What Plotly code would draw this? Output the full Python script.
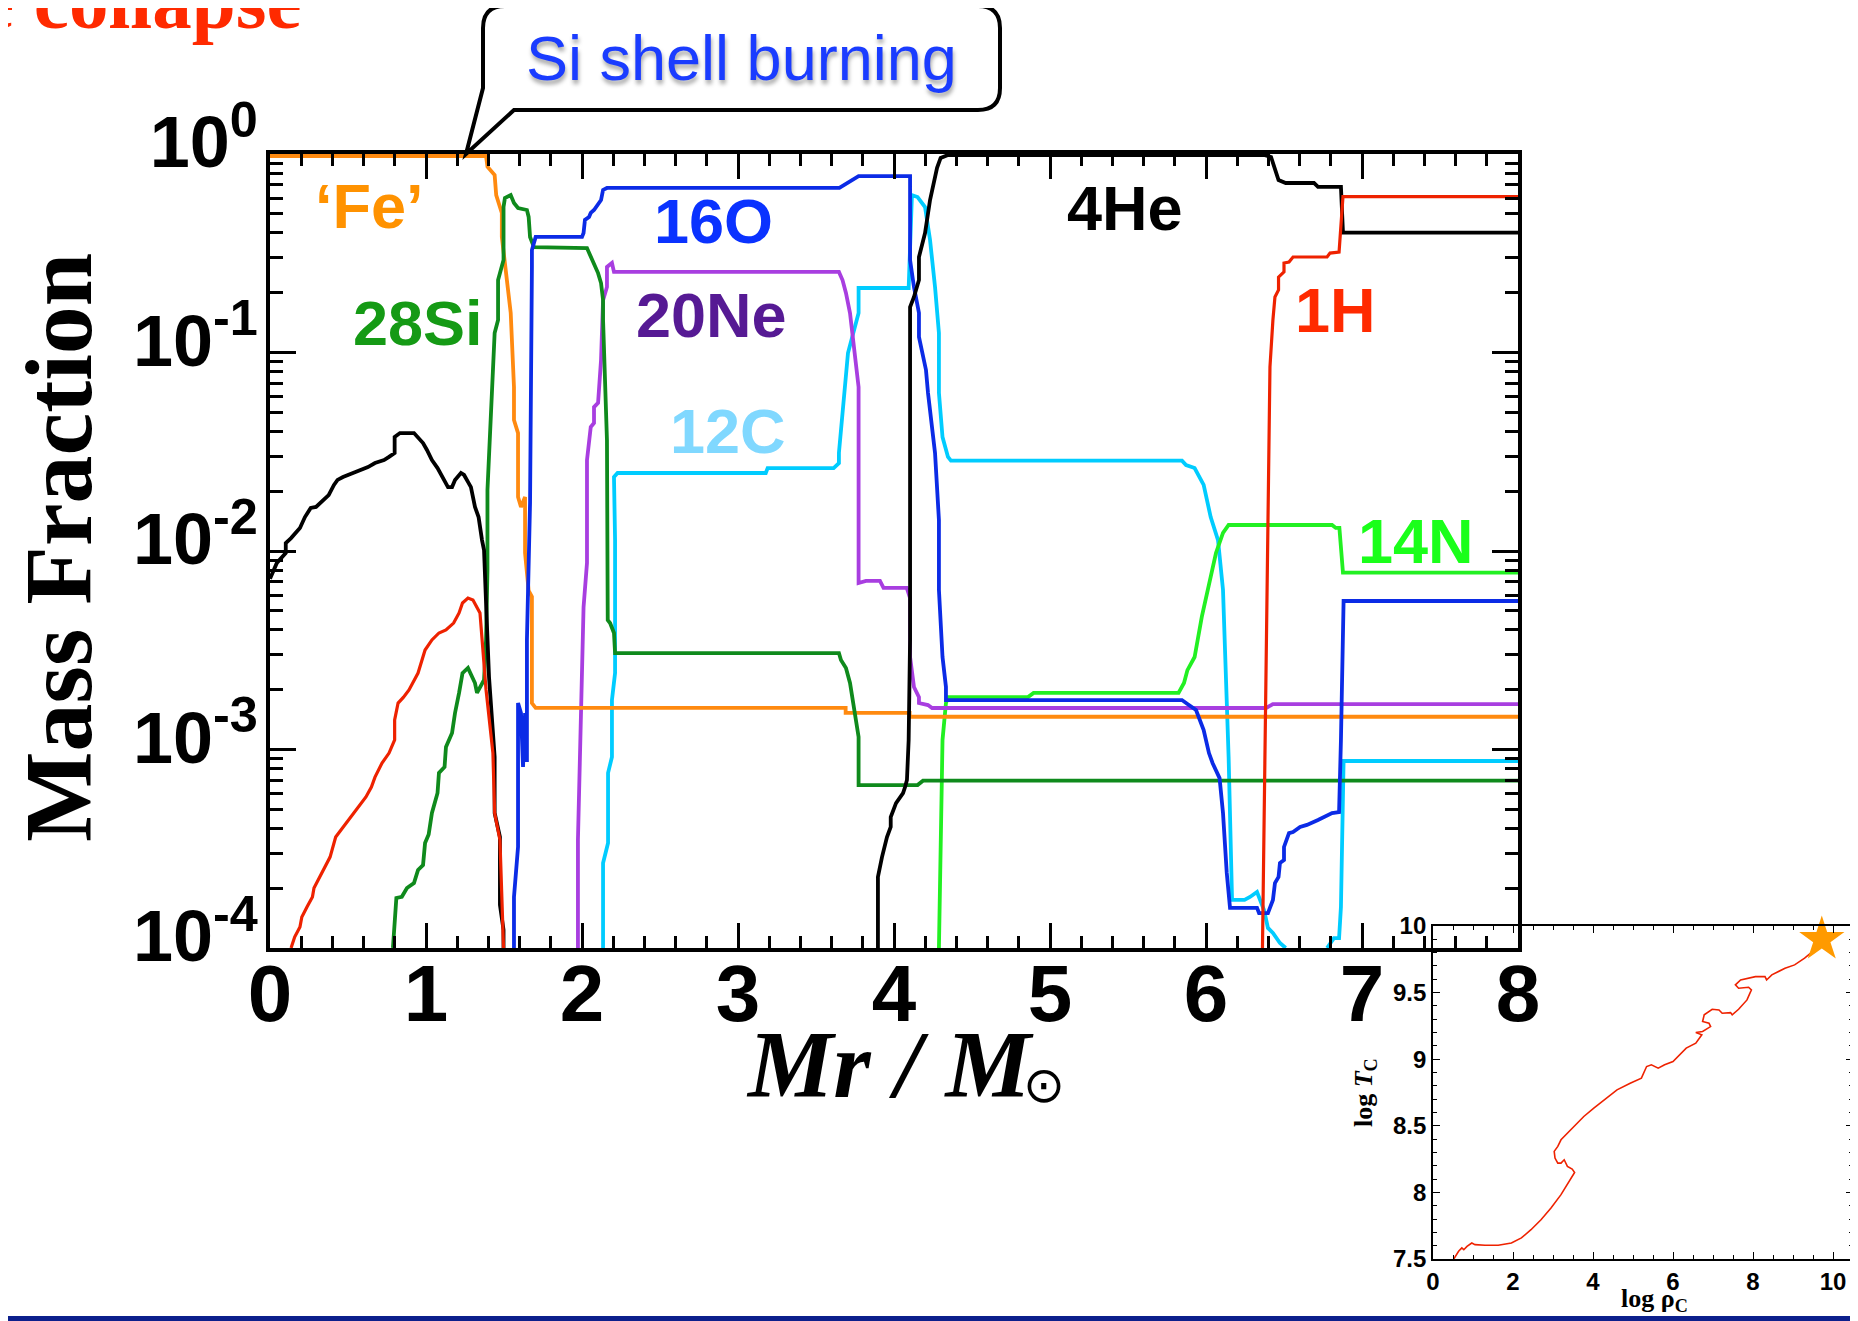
import plotly.graph_objects as go
import math

# page body has an 8px margin; the figure is placed so that reference pixel coords map 1:1
OFF = 8
W, H = 1858 - OFF, 1321 - OFF

# ---------------- data: (Mr/Msun, log10 mass fraction) ----------------
fe_pts = [(0, -0.01), (1.385, -0.01), (1.394, -0.064), (1.44, -0.106), (1.45, -0.207), (1.486, -0.297),
          (1.486, -0.417), (1.519, -0.635), (1.543, -0.80), (1.564, -1.174), (1.564, -1.34), (1.59, -1.406),
          (1.59, -1.728), (1.609, -1.778), (1.635, -1.728), (1.635, -2.01), (1.658, -2.2), (1.679, -2.23),
          (1.679, -2.766), (1.703, -2.79), (3.69, -2.79), (3.69, -2.815), (4.1, -2.815), (4.1, -2.835),
          (8, -2.835)]

si_pts = [(0.788, -4.0), (0.81, -3.748), (0.845, -3.742), (0.878, -3.698), (0.923, -3.673), (0.949, -3.607),
          (0.981, -3.582), (0.994, -3.471), (1.017, -3.428), (1.038, -3.32), (1.074, -3.219), (1.083, -3.118),
          (1.119, -3.088), (1.128, -2.987), (1.167, -2.917), (1.186, -2.816), (1.212, -2.715), (1.234, -2.615),
          (1.269, -2.589), (1.288, -2.625), (1.314, -2.665), (1.327, -2.715), (1.346, -2.685), (1.372, -2.65),
          (1.385, -2.448), (1.394, -2.096), (1.394, -1.693), (1.417, -1.254), (1.44, -0.902), (1.462, -0.836),
          (1.462, -0.635), (1.497, -0.534), (1.497, -0.267), (1.506, -0.222), (1.543, -0.207), (1.564, -0.247),
          (1.59, -0.272), (1.647, -0.282), (1.658, -0.317), (1.667, -0.418), (1.692, -0.469), (2.032, -0.474),
          (2.077, -0.549), (2.103, -0.6), (2.122, -0.65), (2.135, -0.736), (2.135, -0.836), (2.16, -1.441),
          (2.165, -2.348), (2.18, -2.363), (2.205, -2.413), (2.212, -2.514), (3.647, -2.514), (3.66, -2.549),
          (3.692, -2.589), (3.718, -2.665), (3.773, -2.937), (3.773, -3.179), (4.151, -3.179), (4.186, -3.157),
          (8, -3.157)]

he_pts = [(0.0, -2.14), (0.044, -2.06), (0.101, -2.01), (0.101, -1.96), (0.135, -1.935), (0.192, -1.884),
          (0.224, -1.829), (0.261, -1.783), (0.295, -1.778), (0.34, -1.743), (0.376, -1.718), (0.41, -1.667),
          (0.433, -1.642), (0.468, -1.627), (0.536, -1.607), (0.581, -1.592), (0.628, -1.577), (0.673, -1.557),
          (0.731, -1.542), (0.763, -1.526), (0.799, -1.506), (0.799, -1.426), (0.833, -1.406), (0.923, -1.406),
          (0.949, -1.431), (0.981, -1.456), (1.006, -1.491), (1.038, -1.542), (1.074, -1.582), (1.109, -1.632),
          (1.141, -1.678), (1.167, -1.678), (1.186, -1.642), (1.224, -1.607), (1.244, -1.617), (1.269, -1.652),
          (1.288, -1.678), (1.314, -1.778), (1.337, -1.829), (1.359, -1.945), (1.372, -1.995), (1.385, -2.262),
          (1.394, -2.433), (1.404, -2.635), (1.44, -3.038), (1.44, -3.32), (1.474, -3.441), (1.474, -3.783),
          (1.497, -3.909), (1.497, -4.0), None,
          (3.897, -4.0), (3.897, -3.642), (3.923, -3.542), (3.955, -3.441), (3.979, -3.39), (3.979, -3.34),
          (4.013, -3.27), (4.036, -3.24), (4.058, -3.22), (4.071, -3.189), (4.083, -3.154), (4.094, -2.952),
          (4.103, -2.448), (4.103, -0.771), (4.128, -0.72), (4.16, -0.635), (4.16, -0.519), (4.199, -0.398),
          (4.231, -0.232), (4.276, -0.07), (4.299, -0.02), (4.346, -0.005), (6.372, -0.005), (6.417, -0.015),
          (6.442, -0.08), (6.465, -0.131), (6.511, -0.146), (6.692, -0.146), (6.718, -0.166), (6.865, -0.166),
          (6.878, -0.396), (8, -0.396)]

h_pts = [(0.135, -4.0), (0.158, -3.945), (0.192, -3.894), (0.204, -3.844), (0.237, -3.793), (0.272, -3.743),
         (0.282, -3.698), (0.318, -3.642), (0.353, -3.592), (0.385, -3.542), (0.421, -3.441), (0.455, -3.406),
         (0.487, -3.37), (0.536, -3.32), (0.571, -3.29), (0.615, -3.239), (0.65, -3.189), (0.673, -3.139),
         (0.718, -3.068), (0.763, -3.018), (0.799, -2.952), (0.799, -2.851), (0.821, -2.766), (0.856, -2.736),
         (0.891, -2.7), (0.923, -2.65), (0.949, -2.615), (0.994, -2.499), (1.038, -2.448), (1.083, -2.413),
         (1.128, -2.398), (1.177, -2.363), (1.212, -2.312), (1.234, -2.262), (1.269, -2.237), (1.301, -2.247),
         (1.327, -2.282), (1.346, -2.312), (1.385, -2.7), (1.429, -3.018), (1.44, -3.32), (1.474, -3.456),
         (1.497, -4.0), None,
         (6.362, -4.0), (6.372, -3.39), (6.385, -2.615), (6.397, -1.945), (6.408, -1.406), (6.41, -1.073),
         (6.429, -0.836), (6.442, -0.72), (6.465, -0.685), (6.465, -0.62), (6.5, -0.594), (6.5, -0.549),
         (6.532, -0.544), (6.558, -0.519), (6.776, -0.519), (6.795, -0.499), (6.853, -0.494), (6.865, -0.368),
         (6.878, -0.215), (8, -0.215)]

o_pts = [(1.564, -4.0), (1.564, -3.743), (1.59, -3.491), (1.59, -3.088), (1.59, -2.766), (1.609, -2.816),
         (1.622, -3.088), (1.635, -2.816), (1.647, -3.063), (1.647, -2.448), (1.658, -1.945), (1.667, -1.758),
         (1.679, -0.569), (1.679, -0.484), (1.703, -0.418), (2.0, -0.418), (2.01, -0.398), (2.019, -0.332),
         (2.045, -0.317), (2.056, -0.297), (2.077, -0.282), (2.103, -0.257), (2.122, -0.232), (2.135, -0.181),
         (2.16, -0.171), (3.65, -0.171), (3.679, -0.156), (3.718, -0.141), (3.75, -0.121), (3.773, -0.111),
         (4.103, -0.111), (4.103, -0.534), (4.128, -0.67), (4.16, -0.801), (4.16, -0.922), (4.205, -1.088),
         (4.218, -1.204), (4.263, -1.506), (4.288, -1.844), (4.288, -2.196), (4.311, -2.534), (4.333, -2.685),
         (4.333, -2.751), (5.846, -2.751), (5.881, -2.771), (5.936, -2.801), (5.985, -2.902), (6.019, -3.018),
         (6.042, -3.068), (6.087, -3.144), (6.109, -3.32), (6.133, -3.622), (6.154, -3.798), (6.327, -3.798),
         (6.34, -3.824), (6.397, -3.824), (6.429, -3.758), (6.442, -3.673), (6.465, -3.642), (6.474, -3.572),
         (6.5, -3.557), (6.5, -3.491), (6.532, -3.421), (6.558, -3.416), (6.603, -3.39), (6.647, -3.38),
         (6.718, -3.355), (6.763, -3.34), (6.808, -3.32), (6.853, -3.315), (6.865, -2.952), (6.882, -2.252),
         (8, -2.252)]

ne_pts = [(1.974, -4.0), (1.974, -3.456), (2.01, -2.282), (2.032, -2.06), (2.032, -1.542), (2.056, -1.375),
          (2.077, -1.355), (2.077, -1.275), (2.103, -1.254), (2.113, -1.103), (2.122, -1.038), (2.135, -0.736),
          (2.16, -0.67), (2.16, -0.569), (2.192, -0.549), (2.205, -0.594), (3.647, -0.594), (3.67, -0.635),
          (3.692, -0.7), (3.718, -0.801), (3.773, -1.174), (3.773, -2.161), (3.808, -2.156), (3.82, -2.151),
          (3.91, -2.151), (3.933, -2.186), (4.082, -2.186), (4.103, -2.237), (4.103, -2.534), (4.128, -2.685),
          (4.16, -2.736), (4.16, -2.766), (4.218, -2.776), (4.244, -2.791), (6.385, -2.791), (6.429, -2.771),
          (8, -2.771)]

c_pts = [(2.135, -4.0), (2.135, -3.572), (2.167, -3.471), (2.167, -3.118), (2.192, -3.038), (2.192, -2.751),
         (2.212, -2.615), (2.212, -1.945), (2.205, -1.627), (2.228, -1.607), (3.178, -1.607), (3.19, -1.582),
         (3.613, -1.582), (3.647, -1.557), (3.647, -1.506), (3.679, -1.254), (3.705, -1.003), (3.773, -0.801),
         (3.773, -0.675), (4.094, -0.675), (4.115, -0.207), (4.151, -0.217), (4.199, -0.267), (4.231, -0.433),
         (4.263, -0.67), (4.288, -0.902), (4.288, -1.204), (4.311, -1.426), (4.346, -1.526), (4.365, -1.545),
         (5.846, -1.545), (5.872, -1.567), (5.927, -1.582), (5.985, -1.667), (6.03, -1.829), (6.077, -1.945),
         (6.109, -2.196), (6.145, -3.038), (6.167, -3.758), (6.247, -3.758), (6.282, -3.743), (6.327, -3.718),
         (6.34, -3.743), (6.372, -3.809), (6.397, -3.899), (6.429, -3.924), (6.474, -3.975), (6.511, -4.0), None,
         (6.776, -4.0), (6.82, -3.95), (6.853, -3.95), (6.865, -3.793), (6.882, -3.058), (8, -3.058)]

n_pts = [(4.288, -4.0), (4.311, -2.952), (4.333, -2.766), (4.346, -2.736), (4.859, -2.736), (4.895, -2.715),
         (5.824, -2.715), (5.859, -2.665), (5.881, -2.6), (5.927, -2.534), (5.973, -2.332), (6.006, -2.212),
         (6.03, -2.131), (6.064, -2.01), (6.109, -1.909), (6.145, -1.869), (6.808, -1.869), (6.832, -1.884),
         (6.855, -1.884), (6.878, -2.109), (8, -2.109)]

# inset: central density / temperature track
log_rho_c = [0.52, 0.64, 0.72, 0.77, 0.85, 0.97, 1.05, 1.30, 1.63, 1.96, 2.21, 2.45, 2.70, 2.95, 3.20,
             3.44, 3.54, 3.48, 3.36, 3.28, 3.20, 3.12, 3.05, 3.03, 3.12, 3.20, 3.36, 3.53, 3.77, 4.02,
             4.27, 4.60, 4.93, 5.21, 5.34, 5.46, 5.63, 5.79, 6.0, 6.16, 6.33, 6.57, 6.72, 6.57, 6.74,
             6.94, 6.90, 6.74, 6.78, 6.98, 7.15, 7.23, 7.44, 7.48, 7.64, 7.85, 7.96, 7.89, 7.64, 7.56,
             7.69, 8.06, 8.30, 8.34, 8.47, 8.80, 9.04, 9.29, 9.54, 9.72]
log_t_c = [7.5, 7.558, 7.583, 7.57, 7.595, 7.62, 7.608, 7.603, 7.603, 7.62, 7.658, 7.72, 7.795, 7.883, 7.983,
           8.095, 8.15, 8.175, 8.195, 8.245, 8.22, 8.22, 8.258, 8.308, 8.345, 8.395, 8.445, 8.495, 8.57, 8.633,
           8.695, 8.77, 8.82, 8.858, 8.945, 8.958, 8.933, 8.958, 8.983, 9.033, 9.083, 9.12, 9.183, 9.2, 9.208,
           9.245, 9.27, 9.283, 9.333, 9.375, 9.37, 9.345, 9.35, 9.333, 9.375, 9.445, 9.52, 9.54, 9.533, 9.558,
           9.595, 9.62, 9.62, 9.595, 9.633, 9.683, 9.708, 9.758, 9.82, 9.895]
star_rho = [9.72]
star_t = [9.9]

y_tickvals = [-4, -3, -2, -1, 0]
y_ticktext = ["10<sup>-4</sup>", "10<sup>-3</sup>", "10<sup>-2</sup>", "10<sup>-1</sup>", "10<sup>0</sup>"]

# ---------------- figure ----------------
series = [
    ("12C", c_pts, "#00ccff", 3.8),
    ("14N", n_pts, "#22f022", 3.8),
    ("20Ne", ne_pts, "#a83ee0", 3.8),
    ("Fe", fe_pts, "#ff8a10", 3.8),
    ("28Si", si_pts, "#0f8a1c", 3.8),
    ("16O", o_pts, "#0b2be6", 3.8),
    ("4He", he_pts, "#000000", 3.8),
    ("1H", h_pts, "#ee2200", 3.2),
]

fig = go.Figure()
for name, pts, col, lw in series:
    xs = [p[0] if p is not None else None for p in pts]
    ys = [p[1] if p is not None else None for p in pts]
    fig.add_trace(go.Scatter(x=xs, y=ys, mode="lines", name=name,
                             line=dict(color=col, width=lw), connectgaps=False,
                             xaxis="x", yaxis="y", hoverinfo="skip"))

fig.add_trace(go.Scatter(x=log_rho_c, y=log_t_c, mode="lines", line=dict(color="#ee2200", width=1.6),
                         xaxis="x2", yaxis="y2", hoverinfo="skip"))
fig.add_trace(go.Scatter(x=star_rho, y=star_t, mode="markers",
                         marker=dict(symbol="star", size=34, color="#ff9a00", line=dict(width=0)),
                         xaxis="x2", yaxis="y2", cliponaxis=False, hoverinfo="skip"))

def px(x):
    return (x - OFF) / W

def py(y):
    return 1 - (y - OFF) / H

bold_sans = dict(family="Liberation Sans, Arial, sans-serif", weight="bold", color="black")

minor_y = [e + math.log10(m) for e in range(-4, 0) for m in range(2, 10)]

fig.update_layout(
    width=W, height=H, margin=dict(l=0, r=0, t=0, b=0, autoexpand=False),
    paper_bgcolor="white", plot_bgcolor="rgba(0,0,0,0)", showlegend=False,
    xaxis=dict(domain=[px(270), px(1518)], range=[0, 8], anchor="y", automargin=False,
               showline=True, linewidth=3.5, linecolor="black", mirror="allticks",
               ticks="inside", ticklen=25, tickwidth=3, tickcolor="black",
               tick0=0, dtick=1, showgrid=False, zeroline=False,
               minor=dict(ticks="inside", ticklen=12, tickwidth=3, tickcolor="black", dtick=0.2, showgrid=False),
               tickfont=dict(size=80, **bold_sans), ticklabelstandoff=-27),
    yaxis=dict(domain=[py(948), py(154)], range=[-4, 0], anchor="x", automargin=False,
               showline=True, linewidth=3.5, linecolor="black", mirror="allticks",
               ticks="inside", ticklen=26, tickwidth=3, tickcolor="black",
               tickmode="array", tickvals=y_tickvals, ticktext=y_ticktext,
               showgrid=False, zeroline=False,
               minor=dict(ticks="inside", ticklen=13, tickwidth=3, tickcolor="black",
                          tickmode="array", tickvals=minor_y, showgrid=False),
               tickfont=dict(size=72, **bold_sans), ticklabelstandoff=-6, ticklabelshift=-12),
    xaxis2=dict(domain=[px(1433), px(1853)], range=[0, 10.5], anchor="y2", automargin=False,
                showline=True, linewidth=1.8, linecolor="black", mirror="allticks",
                ticks="inside", ticklen=7, tickwidth=1.4, tickcolor="black",
                tick0=0, dtick=2, showgrid=False, zeroline=False,
                minor=dict(ticks="inside", ticklen=4, tickwidth=1.2, tickcolor="black", dtick=0.5, showgrid=False),
                tickfont=dict(size=24, **bold_sans)),
    yaxis2=dict(domain=[py(1259), py(926)], range=[7.5, 10.0], anchor="x2", automargin=False,
                showline=True, linewidth=1.8, linecolor="black", mirror="allticks",
                ticks="inside", ticklen=7, tickwidth=1.4, tickcolor="black",
                tick0=7.5, dtick=0.5, showgrid=False, zeroline=False,
                minor=dict(ticks="inside", ticklen=4, tickwidth=1.2, tickcolor="black", dtick=0.1, showgrid=False),
                tickfont=dict(size=24, **bold_sans)),
)

# callout bubble
def P(x, y):
    return f"{px(x):.5f},{py(y):.5f}"

bubble = ("M " + P(505, 6) + " L " + P(978, 6) + " Q " + P(1000, 6) + " " + P(1000, 28) +
          " L " + P(1000, 88) + " Q " + P(1000, 110) + " " + P(978, 110) +
          " L " + P(514, 110) + " L " + P(466, 154) + " L " + P(483, 88) +
          " L " + P(483, 28) + " Q " + P(483, 6) + " " + P(505, 6) + " Z")
fig.add_shape(type="path", path=bubble, xref="paper", yref="paper",
              line=dict(color="black", width=4), fillcolor="white", layer="above")
# footer rule
fig.add_shape(type="line", x0=0, x1=1, y0=py(1318.5), y1=py(1318.5), xref="paper", yref="paper",
              line=dict(color="#0c1f8c", width=5))

serif = "Liberation Serif, Times New Roman, serif"
ann = []
ann.append(dict(x=px(741), y=py(58), xref="paper", yref="paper", text="Si shell burning", showarrow=False,
                font=dict(family="Liberation Sans, Arial, sans-serif", size=63, color="#1a3cff",
                          shadow="1px 4px 4px rgba(0,0,0,0.35)"),
                xanchor="center", yanchor="middle"))
ann.append(dict(x=px(304), y=py(1), xref="paper", yref="paper", text="e collapse", showarrow=False,
                font=dict(family=serif, size=79, weight="bold", color="#ff2a00"),
                xanchor="right", yanchor="middle"))
ann.append(dict(x=px(58), y=py(548), xref="paper", yref="paper", text="Mass Fraction", showarrow=False,
                textangle=-90, font=dict(family=serif, size=96, weight="bold", color="black"),
                xanchor="center", yanchor="middle"))
ann.append(dict(x=px(890), y=py(1064), xref="paper", yref="paper", text="Mr / M", showarrow=False,
                font=dict(family=serif, size=96, weight="bold", style="italic", color="black"),
                xanchor="center", yanchor="middle"))
ann.append(dict(x=px(1044), y=py(1085), xref="paper", yref="paper", text="⊙", showarrow=False,
                font=dict(family="DejaVu Sans, sans-serif", size=50, color="black"),
                xanchor="center", yanchor="middle"))
ann.append(dict(x=px(1654), y=py(1300), xref="paper", yref="paper", text="log ρ<sub>C</sub>", showarrow=False,
                font=dict(family=serif, size=26, weight="bold", color="black"),
                xanchor="center", yanchor="middle"))
ann.append(dict(x=px(1365), y=py(1093), xref="paper", yref="paper", text="log <i>T</i><sub>C</sub>",
                showarrow=False, textangle=-90,
                font=dict(family=serif, size=26, weight="bold", color="black"),
                xanchor="center", yanchor="middle"))

labels = [("‘Fe’", 0.635, -0.262, "#ff9200"),
          ("28Si", 0.949, -0.851, "#159a15"),
          ("16O", 2.84, -0.338, "#0a32ff"),
          ("20Ne", 2.833, -0.811, "#561a94"),
          ("12C", 2.936, -1.395, "#80d8ff"),
          ("4He", 5.481, -0.272, "#000000"),
          ("1H", 6.827, -0.786, "#ff2a00"),
          ("14N", 7.346, -1.95, "#1aff1a")]
for t, x, y, col in labels:
    ann.append(dict(x=x, y=y, xref="x", yref="y", text=t, showarrow=False,
                    font=dict(family="Liberation Sans, Arial, sans-serif", size=63, weight="bold", color=col),
                    xanchor="center", yanchor="middle"))

fig.update_layout(annotations=ann)
fig.write_html("out.html")
